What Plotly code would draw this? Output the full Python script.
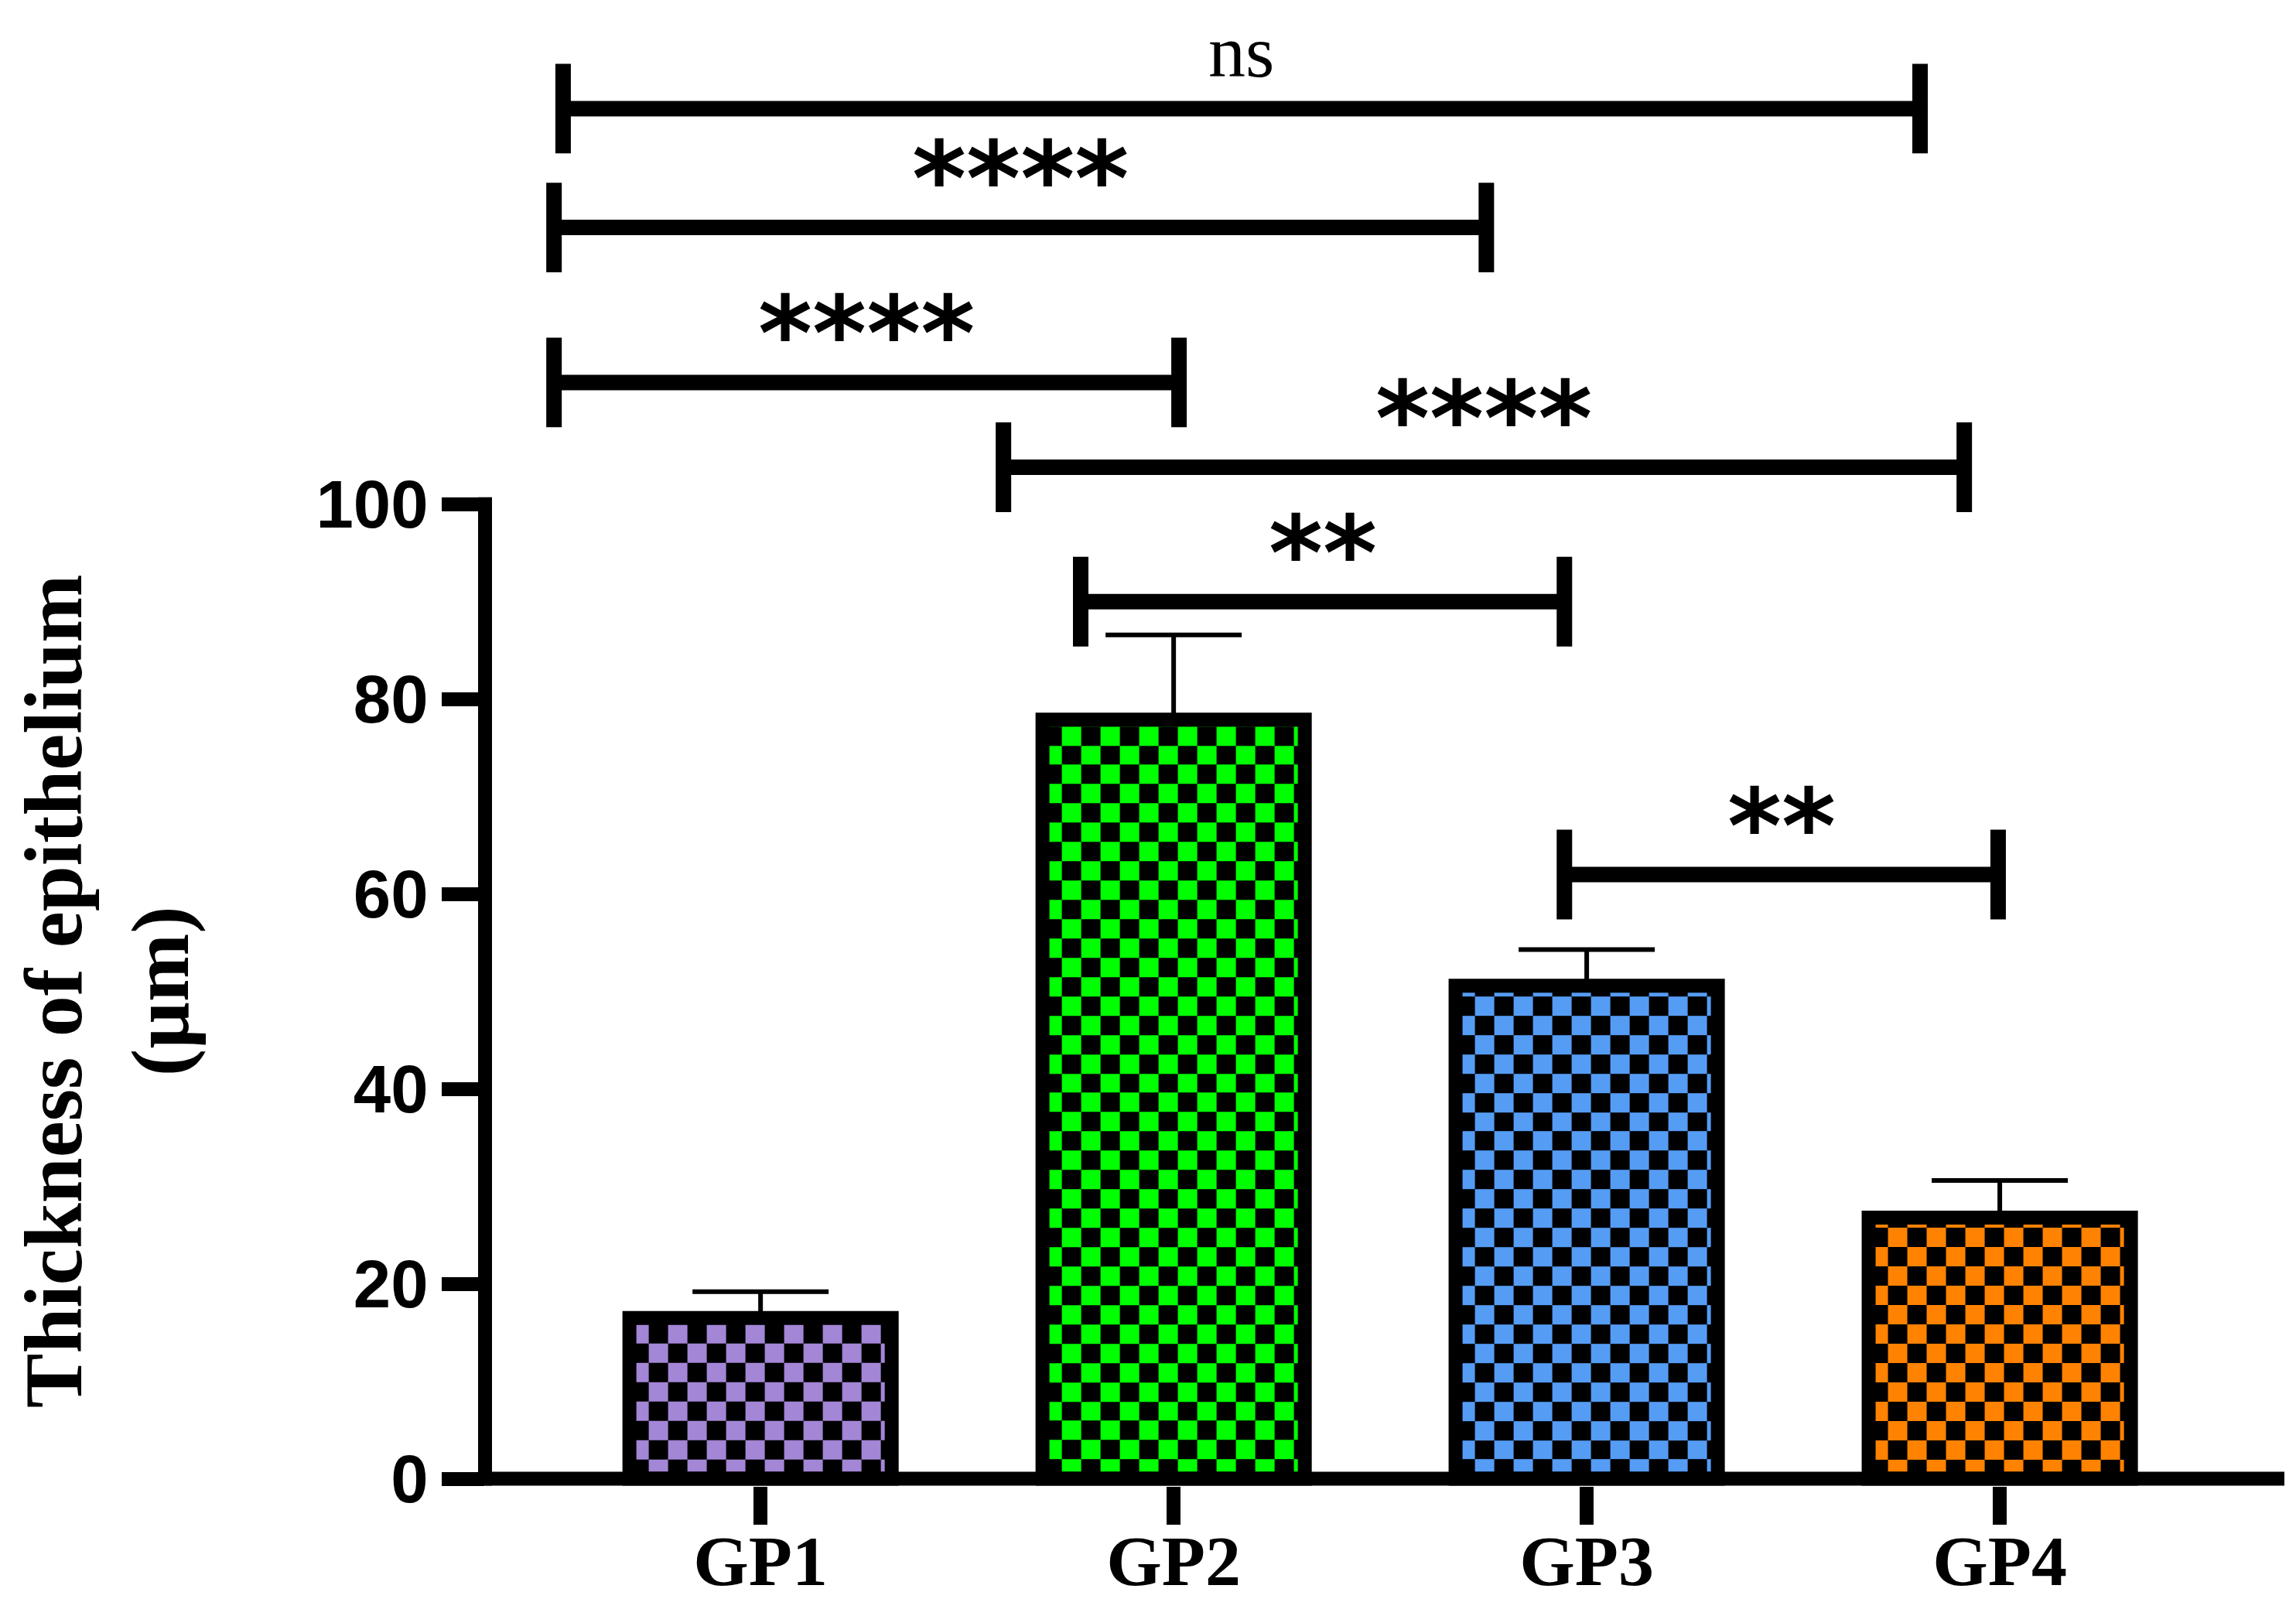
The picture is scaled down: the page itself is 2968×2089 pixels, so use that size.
import numpy as np
import plotly.graph_objects as go

# data
groups = ["GP1", "GP2", "GP3", "GP4"]
means = [16.5, 77.9, 50.6, 26.8]
sem = [2.7, 8.7, 3.7, 3.8]
bar_colors = ["#A386D6", "#00FF00", "#559CF5", "#FF8200"]
y_ticks = [0, 20, 40, 60, 80, 100]

# significance brackets
br_left = [-0.478, -0.500, -0.500, 0.588, 0.775, 1.946]
br_right = [2.807, 1.757, 1.013, 2.914, 1.946, 2.996]
br_level = [140.6, 128.4, 112.5, 103.8, 90.0, 62.0]
br_label = ["ns", "****", "****", "****", "**", "**"]

xpos = list(range(len(groups)))
bar_w = 0.635
cell_x = 0.0468   # checker cell size (x units)
cell_y = 1.98     # checker cell size (y units)
tick_h = 4.6      # half height of bracket end ticks

fig = go.Figure()

# checkerboard fill for each bar, drawn under the bar outlines
for i, v in enumerate(means):
    x0 = xpos[i] - bar_w / 2
    x1 = xpos[i] + bar_w / 2
    xe = list(np.arange(x0, x1 - 1e-6, cell_x)) + [x1]
    ye = list(np.arange(0, v - 1e-6, cell_y)) + [v]
    z = [[(r + c) % 2 for c in range(len(xe) - 1)] for r in range(len(ye) - 1)]
    fig.add_trace(go.Heatmap(
        x=xe, y=ye, z=z, zmin=0, zmax=1,
        colorscale=[[0, "black"], [1, bar_colors[i]]],
        showscale=False, hoverinfo="skip"))

fig.add_trace(go.Bar(
    x=xpos, y=means, width=bar_w,
    marker=dict(color="rgba(0,0,0,0)", line=dict(color="black", width=18)),
    error_y=dict(type="data", array=sem, arrayminus=[0] * len(sem), symmetric=False,
                 color="black", thickness=6, width=88),
    hoverinfo="skip"))

shapes = []
# axis lines
shapes.append(dict(type="line", xref="paper", yref="y", x0=0, x1=0, y0=-0.72, y1=100.72,
                   line=dict(color="black", width=18)))
shapes.append(dict(type="line", xref="paper", yref="y", x0=0, x1=1, y0=0, y1=0,
                   line=dict(color="black", width=18)))

annotations = []
for xl, xr, lv, lab in zip(br_left, br_right, br_level, br_label):
    path = (f"M{xl},{lv - tick_h} L{xl},{lv + tick_h} M{xl},{lv} L{xr},{lv} "
            f"M{xr},{lv - tick_h} L{xr},{lv + tick_h}")
    shapes.append(dict(type="path", xref="x", yref="y", path=path,
                       line=dict(color="black", width=20)))
    if lab == "ns":
        fnt = dict(family="Liberation Serif", size=96, color="black")
        ys = 74
    else:
        fnt = dict(family="DejaVu Sans", size=134, color="black", weight="bold")
        ys = 62
    annotations.append(dict(x=(xl + xr) / 2, y=lv, xref="x", yref="y", text=lab,
                            showarrow=False, xanchor="center", yanchor="middle",
                            yshift=ys, font=fnt))

annotations.append(dict(
    text="Thickness of epithelium<br>(µm)", textangle=-90,
    xref="paper", yref="y", x=-0.2100, y=50, xanchor="center", yanchor="middle",
    showarrow=False, borderpad=0,
    font=dict(family="Liberation Serif", size=106, color="black", weight="bold")))

fig.update_layout(
    width=2952, height=2073,
    margin=dict(l=619, r=7, t=14, b=160),
    plot_bgcolor="white", paper_bgcolor="white",
    showlegend=False,
    shapes=shapes, annotations=annotations,
    xaxis=dict(range=[-0.667, 3.689], tickvals=xpos, ticktext=groups,
               showgrid=False, zeroline=False, showline=False, automargin=False,
               ticks="outside", ticklen=49, tickwidth=18, tickcolor="black",
               ticklabelstandoff=-32,
               tickfont=dict(family="Liberation Serif", size=92, color="black", weight="bold")),
    yaxis=dict(range=[-0.75, 150], tickvals=y_ticks,
               showgrid=False, zeroline=False, showline=False, automargin=False,
               ticks="outside", ticklen=55, tickwidth=18, tickcolor="black",
               tickfont=dict(family="Liberation Sans", size=87, color="black", weight="bold")),
)

fig.write_html("out.html")
